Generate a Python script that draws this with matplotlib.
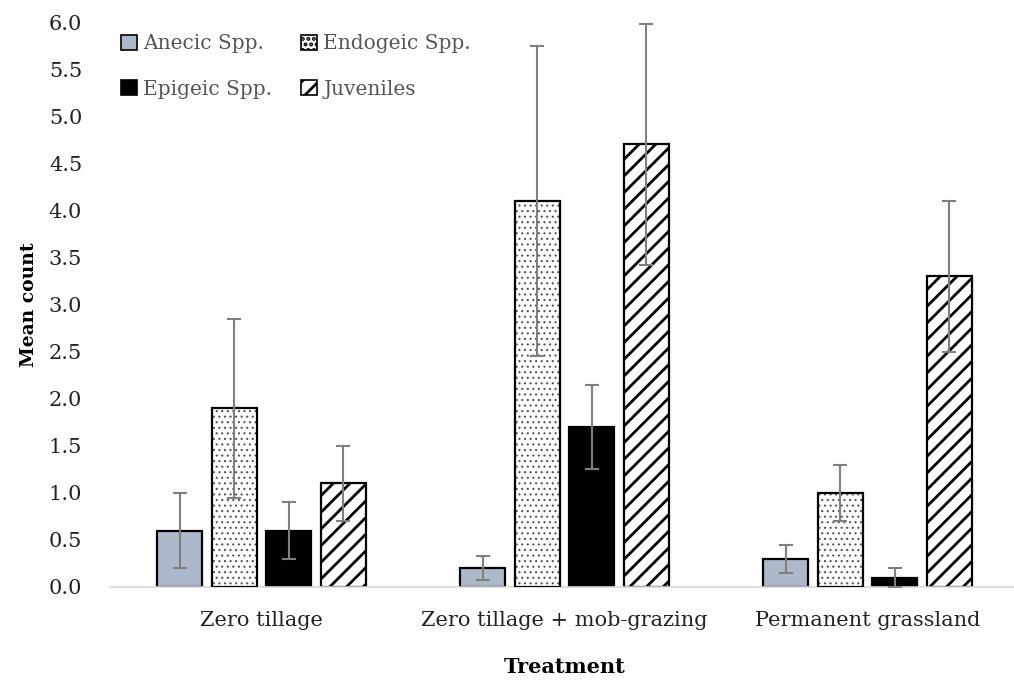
import numpy as np
import matplotlib
matplotlib.use("Agg")
import matplotlib.pyplot as plt

# data
treatments = ["Zero tillage", "Zero tillage + mob-grazing", "Permanent grassland"]
series = ["Anecic Spp.", "Endogeic Spp.", "Epigeic Spp.", "Juveniles"]
anecic = [0.6, 0.2, 0.3]
anecic_err = [0.4, 0.13, 0.15]
endogeic = [1.9, 4.1, 1.0]
endogeic_err = [0.95, 1.65, 0.3]
epigeic = [0.6, 1.7, 0.1]
epigeic_err = [0.3, 0.45, 0.1]
juveniles = [1.1, 4.7, 3.3]
juveniles_err = [0.4, 1.28, 0.8]

plt.rcParams['font.family'] = ['DejaVu Serif']
plt.rcParams['hatch.linewidth'] = 2.0

fig = plt.figure(figsize=(10.14, 6.81), dpi=100)
ax = fig.add_axes([110/1014, 1-587/681, 909/1014, (587-22)/681])

x = np.arange(len(treatments))
pitch = 0.18
width = 0.15
offsets = (np.arange(4) - 1.5) * pitch

vals = [anecic, endogeic, epigeic, juveniles]
errs = [anecic_err, endogeic_err, epigeic_err, juveniles_err]
styles = [
    dict(color='#adb9ca', hatch=None),
    dict(color='white', hatch='...'),
    dict(color='black', hatch=None),
    dict(color='white', hatch='//'),
]

def thin_hatch(artists, lw):
    for a in artists:
        if hasattr(a, 'set_hatch_linewidth'):
            a.set_hatch_linewidth(lw)

handles = []
for i in range(4):
    st = styles[i]
    if st['hatch'] == '...':
        # gray dots, black outline drawn on top
        dots = ax.bar(x + offsets[i], vals[i], width, color='white',
                      edgecolor='#555555', hatch='...', linewidth=0, zorder=2)
        thin_hatch(dots, 0.8)
        ax.bar(x + offsets[i], vals[i], width, fill=False,
               edgecolor='black', linewidth=1.6, zorder=3)
        hl = plt.Rectangle((0, 0), 1, 1, facecolor='white', edgecolor='black',
                           hatch='...', linewidth=1.2)
        thin_hatch([hl], 0.8)
    else:
        ax.bar(x + offsets[i], vals[i], width, color=st['color'],
               edgecolor='black', hatch=st['hatch'], linewidth=1.6, zorder=2)
        hl = plt.Rectangle((0, 0), 1, 1, facecolor=st['color'], edgecolor='black',
                           hatch=st['hatch'], linewidth=1.2)
    handles.append(hl)
    ax.errorbar(x + offsets[i], vals[i], yerr=errs[i], fmt='none',
                ecolor='#7f7f7f', elinewidth=1.5, capsize=4.7, capthick=1.5, zorder=4)

ax.set_xlim(-0.5, 2.5)
ax.set_ylim(0, 6.0)
ax.set_yticks(np.arange(0, 6.01, 0.5))
ax.set_yticklabels([f"{v:.1f}" for v in np.arange(0, 6.01, 0.5)])
ax.set_xticks(x)
ax.set_xticklabels(treatments)
ax.tick_params(length=0, labelsize=15, colors='#222222')
ax.tick_params(axis='x', pad=17)
ax.tick_params(axis='y', pad=20)

for s in ['top', 'right', 'left']:
    ax.spines[s].set_visible(False)
ax.spines['bottom'].set_color('#d9d9d9')
ax.spines['bottom'].set_linewidth(1.2)

ax.set_ylabel("Mean count", fontsize=13.5, fontweight='bold', labelpad=8)
ax.set_xlabel("Treatment", fontsize=15, fontweight='bold', labelpad=20)

order = [0, 2, 1, 3]
leg = ax.legend([handles[k] for k in order], [series[k] for k in order],
                ncol=2, frameon=False, loc='upper left',
                bbox_to_anchor=(-0.008, 1.01), fontsize=14.5,
                handlelength=0.8, handleheight=0.8, handletextpad=0.3,
                columnspacing=1.45, labelspacing=1.3)
for t in leg.get_texts():
    t.set_color('#555555')

fig.savefig("out.png", dpi=100)
